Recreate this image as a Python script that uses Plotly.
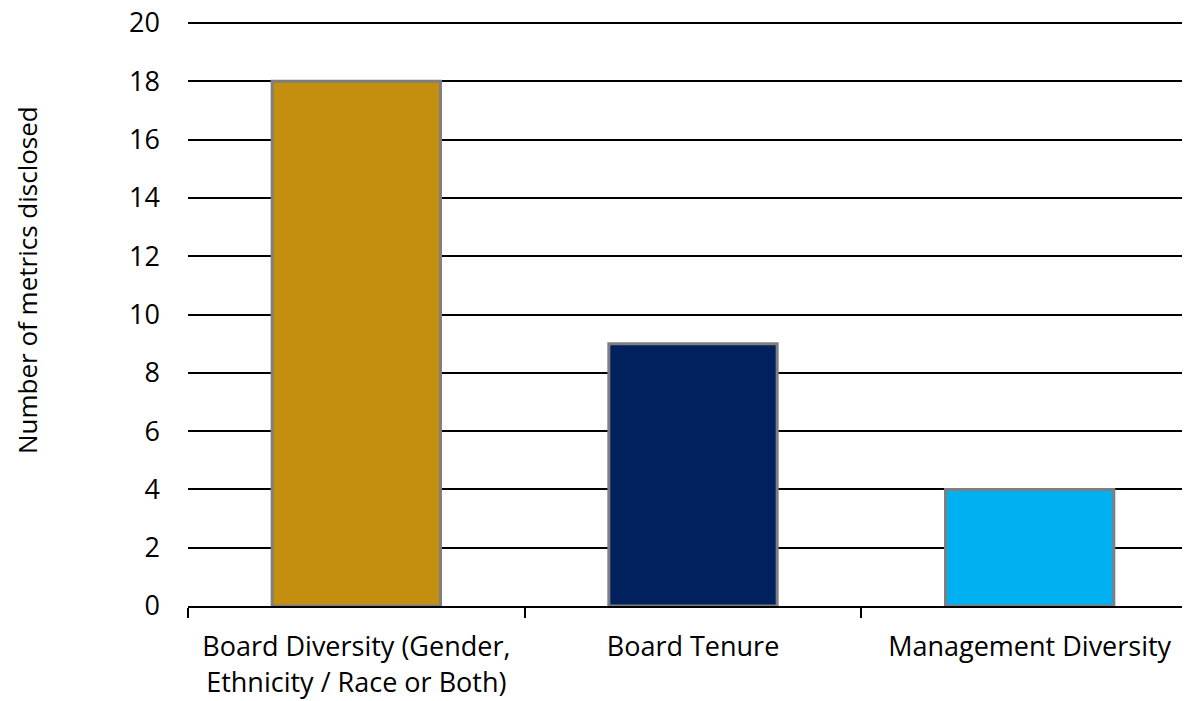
import plotly.graph_objects as go

categories = ["Board Diversity (Gender,<br>Ethnicity / Race or Both)", "Board Tenure", "Management Diversity"]
metrics_disclosed = [18, 9, 4]
bar_colors = ["#C48F0F", "#00215E", "#00B0F0"]
y_ticks = [0, 2, 4, 6, 8, 10, 12, 14, 16, 18, 20]

font_family = "'Open Sans', Lato, sans-serif"

fig = go.Figure(
    go.Bar(
        x=categories,
        y=metrics_disclosed,
        width=0.5,
        marker=dict(color=bar_colors, line=dict(color="#7F7F7F", width=3)),
    )
)

# page body has an 8px margin, so margins are 8px smaller than the picture offsets
fig.update_layout(
    width=1190,
    height=701,
    margin=dict(l=180, r=0, t=12, b=103),
    paper_bgcolor="white",
    plot_bgcolor="white",
    showlegend=False,
    font=dict(family=font_family, size=27, color="black"),
)

fig.update_xaxes(
    range=[-0.5, 2.5],
    showline=True,
    linecolor="black",
    linewidth=2,
    ticks="outside",
    tickson="boundaries",
    ticklen=10,
    tickwidth=2,
    tickcolor="black",
    showgrid=False,
    automargin=False,
    ticklabelstandoff=16,
    tickfont=dict(size=27),
)

# top of range sits a little above 20 so the 20 gridline is drawn
fig.update_yaxes(
    range=[0, 20.103],
    tickvals=y_ticks,
    showgrid=True,
    gridcolor="black",
    gridwidth=1.5,
    zeroline=False,
    showline=False,
    automargin=False,
    ticklabelstandoff=27,
    ticklabeloverflow="allow",
    tickfont=dict(size=27),
)

fig.add_annotation(
    text="Number of metrics disclosed",
    textangle=-90,
    xref="paper",
    yref="paper",
    x=-0.16,
    y=0.557,
    xanchor="center",
    yanchor="middle",
    showarrow=False,
    font=dict(size=26),
)

fig.write_html("out.html")
